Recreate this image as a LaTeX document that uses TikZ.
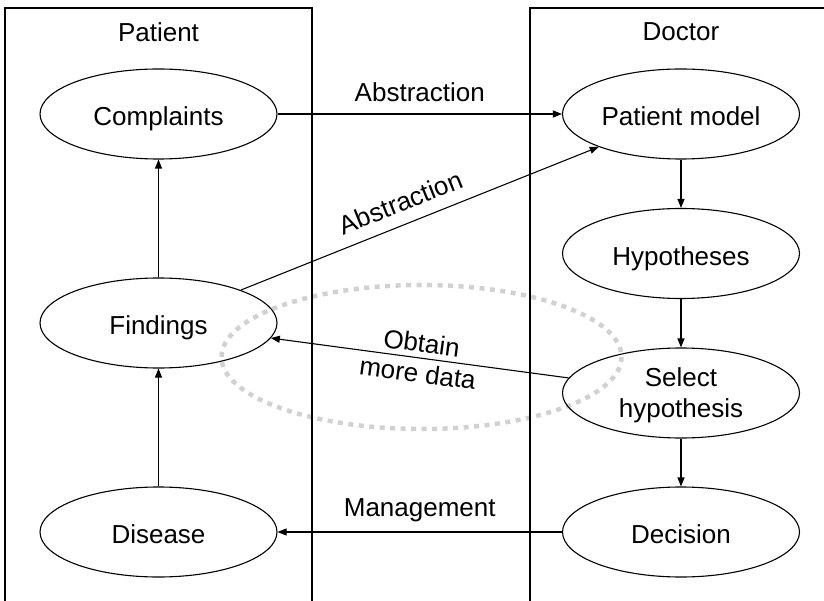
\documentclass[tikz,border=0pt]{standalone}
\usepackage{fontspec}
\setmainfont{Liberation Sans}
\usetikzlibrary{arrows.meta,shapes.geometric}

\begin{document}
\begin{tikzpicture}[x=1pt,y=-1pt,
  state/.style={draw, ellipse, line width=1.1pt, minimum width=237pt,
    minimum height=90pt, inner sep=0pt, align=center,
    font=\fontsize{26}{31}\selectfont},
  oneline/.style={text height=23.4pt, text depth=0pt},
  twoline/.style={text depth=0pt},
  flow/.style={draw, line width=1.1pt, -{Triangle[length=9pt,width=7pt]}},
  lbl/.style={font=\fontsize{26}{30}\selectfont, align=center, inner sep=0pt},
  lane/.style={draw, line width=2pt},
  focus/.style={draw=black!18, line width=4.5pt, dash pattern=on 5pt off 5.5pt}]

\useasboundingbox (0,0) rectangle (824,601);

% highlighted region around the data-gathering loop
\draw[focus] (421.5,357) ellipse [x radius=200, y radius=72];

% swim lanes
\draw[lane] (5,612) -- (5,8) -- (312,8) -- (312,612);
\draw[lane] (530,612) -- (530,8) -- (835,8);

\node[lbl] (patient) at (158.5,32) {Patient};
\node[lbl] (doctor)  at (681,32)   {Doctor};

% patient side
\node[state, oneline] (complaints) at (158.5,114) {Complaints};
\node[state, oneline] (findings)   at (158.5,323) {Findings};
\node[state, oneline] (disease)    at (158.5,532) {Disease};

% doctor side
\node[state, oneline] (pmodel)   at (681,114)   {Patient model};
\node[state, oneline] (hyp)      at (681,253.5) {Hypotheses};
\node[state, twoline] (select)   at (681,393)   {Select\\hypothesis};
\node[state, oneline] (decision) at (681,532)   {Decision};

% connectors
\draw[flow] (disease) -- (findings);
\draw[flow] (findings) -- (complaints);
\draw[flow] (pmodel) -- (hyp);
\draw[flow] (hyp) -- (select);
\draw[flow] (select) -- (decision);

\draw[flow] (complaints) -- node[lbl, midway, yshift=22pt] {Abstraction} (pmodel);
\draw[flow] (findings) -- node[lbl, sloped, pos=0.47, above=12pt] {Abstraction} (pmodel);
\draw[flow] (select) -- node[lbl, sloped, midway] {Obtain\\more data} (findings);
\draw[flow] (decision) -- node[lbl, midway, yshift=22pt] {Management} (disease);
\end{tikzpicture}
\end{document}
